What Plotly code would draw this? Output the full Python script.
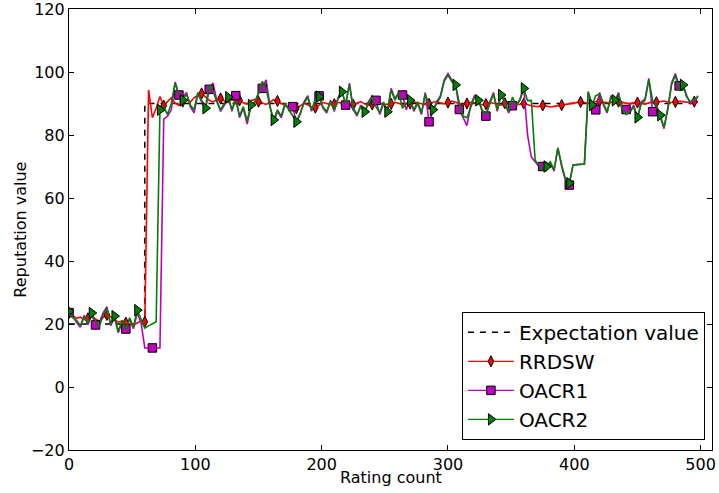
import plotly.graph_objects as go

# x positions of the sampled points (rating count)
x_grid = list(range(0, 500, 3))

expect_x = [0, 60, 60, 500]
expect_y = [20, 20, 90, 90]

rrdsw = [
    23.5, 22.5, 21.8, 22.2, 21.4, 21.8, 22.4, 21.6, 20.8, 22.0,
    22.9, 22.3, 21.5, 20.6, 20.9, 20.4, 19.9, 19.6, 20.3, 21.0,
    20.7, 94.3, 85.5, 88.5, 92.2, 89.3, 90.6, 91.8, 90.2, 89.4,
    90.6, 91.3, 90.4, 91.8, 92.6, 93.2, 92.1, 91.0, 90.5, 91.2,
    91.6, 90.8, 90.3, 91.4, 90.7, 91.0, 90.2, 89.8, 90.9, 91.3,
    90.6, 90.1, 89.7, 90.4, 91.2, 90.8, 90.0, 89.5, 88.9, 88.7,
    88.5, 89.2, 90.1, 89.6, 88.8, 88.7, 89.5, 90.3, 90.0, 89.6,
    89.8, 90.4, 90.1, 89.7, 89.5, 89.6, 90.2, 90.6, 89.9, 89.4,
    89.7, 90.3, 90.0, 89.6, 89.8, 89.9, 90.4, 90.1, 89.5, 89.7,
    90.0, 90.5, 90.2, 89.8, 89.6, 89.9, 90.3, 90.7, 90.2, 89.9,
    90.3, 90.8, 90.4, 89.9, 89.7, 90.0, 90.4, 90.2, 89.8, 89.6,
    89.8, 90.3, 90.1, 89.7, 89.5, 90.1, 90.5, 90.2, 89.9, 89.7,
    90.0, 89.6, 89.3, 89.1, 89.0, 89.4, 89.2, 88.9, 89.1, 89.3,
    89.5, 89.7, 89.9, 90.0, 90.2, 90.5, 90.3, 90.1, 90.4, 90.6,
    90.8, 90.5, 90.2, 90.4, 90.7, 90.6, 90.3, 90.1, 89.9, 90.2,
    90.3, 90.1, 89.8, 90.2, 90.5, 90.4, 90.6, 90.8, 90.5, 90.3,
    90.5, 90.7, 90.6, 90.4, 90.5, 90.6, 90.4,
]

oacr1 = [
    23.6, 22.5, 20.5, 19.0, 22.8, 19.8, 23.0, 19.7, 20.5, 23.5,
    25.5, 19.5, 22.0, 17.2, 20.5, 18.4, 21.5, 18.5, 23.5, 20.5,
    12.4, 12.4, 12.4, 12.4, 12.4, 85.0, 86.0, 88.0, 96.8, 92.7,
    92.0, 93.5, 89.0, 87.0, 93.0, 90.5, 88.0, 94.5, 96.5, 91.0,
    87.5, 89.5, 92.5, 87.5, 92.5, 85.5, 88.5, 83.5, 89.0, 90.0,
    93.5, 94.8, 97.5, 89.5, 84.0, 87.5, 85.5, 89.5, 88.5, 89.0,
    84.0, 86.5, 90.5, 92.5, 87.5, 91.5, 92.4, 88.5, 87.0, 91.0,
    87.5, 92.0, 94.0, 89.5, 96.5, 88.0, 86.0, 89.5, 86.8, 90.5,
    92.5, 91.0, 86.5, 90.0, 87.0, 94.8, 91.5, 93.5, 92.7, 88.0,
    91.5, 87.5, 90.0, 86.5, 93.5, 84.2, 87.5, 90.5, 92.5, 97.5,
    99.5, 97.5, 96.0, 88.1, 85.5, 83.0, 89.5, 92.5, 91.5, 87.5,
    86.0, 90.5, 93.5, 87.5, 93.0, 90.0, 87.0, 89.3, 89.0, 91.5,
    95.0, 80.0, 73.0, 71.5, 70.0, 70.0, 69.5, 71.0, 68.5, 76.0,
    70.0, 65.5, 64.1, 70.5, 70.6, 70.7, 70.8, 93.5, 90.0, 88.0,
    93.5, 89.5, 87.0, 92.5, 90.5, 93.5, 87.5, 88.1, 87.0, 89.5,
    85.0, 90.5, 91.5, 98.0, 87.4, 89.5, 86.0, 82.0, 88.5, 96.5,
    99.5, 95.6, 96.0, 92.5, 90.0, 91.0, 92.5,
]

oacr2 = [
    24.0, 22.0, 21.2, 19.5, 22.3, 20.2, 23.5, 21.0, 19.2, 22.8,
    25.0, 20.0, 22.5, 17.6, 21.2, 18.3, 22.0, 19.0, 24.4, 21.5,
    18.7, 19.4, 20.0, 20.7, 88.0, 89.0, 86.5, 90.0, 96.5, 93.0,
    91.0, 93.0, 89.5, 88.0, 93.5, 91.0, 88.5, 96.0, 94.0, 90.5,
    88.0, 90.0, 92.0, 88.0, 91.0, 86.0, 89.0, 84.5, 89.5, 90.5,
    93.0, 97.0, 95.0, 89.0, 84.8, 88.0, 86.0, 90.0, 88.0, 86.0,
    84.2, 87.0, 90.0, 92.0, 88.0, 91.0, 92.2, 89.0, 87.5, 90.5,
    88.0, 91.5, 93.7, 90.0, 96.0, 88.5, 86.5, 89.0, 87.4, 90.0,
    92.0, 89.0, 87.0, 90.5, 87.4, 94.3, 91.0, 93.5, 88.5, 90.0,
    91.0, 88.0, 90.5, 87.0, 93.0, 89.5, 88.0, 90.0, 92.0, 97.0,
    99.0, 97.0, 95.9, 90.0, 86.0, 85.5, 89.0, 92.0, 91.0, 88.0,
    86.5, 90.0, 93.0, 88.0, 92.7, 90.5, 87.5, 92.0, 89.5, 91.0,
    94.8, 90.9, 91.0, 72.0, 70.5, 69.0, 70.0, 71.5, 69.0, 75.8,
    70.5, 66.0, 64.7, 70.5, 70.6, 70.7, 70.8, 93.8, 89.5, 92.5,
    93.0, 90.0, 87.4, 92.0, 91.0, 93.0, 88.0, 86.5, 87.5, 89.0,
    85.6, 90.0, 91.0, 97.5, 91.0, 89.0, 86.3, 82.5, 88.0, 96.0,
    99.0, 94.0, 95.9, 92.0, 90.5, 91.5, 92.0,
]

x_ticks = [0, 100, 200, 300, 400, 500]
y_ticks = [-20, 0, 20, 40, 60, 80, 100, 120]

RED = "#ff0000"
MAG = "#bf00bf"
GRN = "#008000"
FONT = "DejaVu Sans"

# marker positions (every 15, 22 and 18 rating counts, snapped to sample grid)
idx_r = list(range(0, len(x_grid), 5))
idx_m = sorted(set(round(22 * k / 3) for k in range(0, 23)))
idx_g = list(range(0, len(x_grid), 6))

fig = go.Figure()

fig.add_trace(go.Scatter(x=expect_x, y=expect_y, mode="lines", name="Expectation value",
                         line=dict(color="black", width=1.5, dash="6px,6px")))


def add_series(vals, idx, color, symbol, size):
    fig.add_trace(go.Scatter(x=x_grid, y=vals, mode="lines", showlegend=False,
                             line=dict(color=color, width=1.6)))
    fig.add_trace(go.Scatter(x=[x_grid[i] for i in idx], y=[vals[i] for i in idx],
                             mode="markers", showlegend=False,
                             marker=dict(symbol=symbol, size=size, color=color,
                                         line=dict(color="black", width=1))))


add_series(rrdsw, idx_r, RED, "diamond-tall", 8)
add_series(oacr1, idx_m, MAG, "square", 8.5)
add_series(oacr2, idx_g, GRN, "triangle-right", 10)

# legend entries
for name, color, symbol, size in [("RRDSW", RED, "diamond-tall", 8),
                                   ("OACR1", MAG, "square", 8.5),
                                   ("OACR2", GRN, "triangle-right", 10)]:
    fig.add_trace(go.Scatter(x=[None], y=[None], mode="lines+markers", name=name,
                             line=dict(color=color, width=1.4),
                             marker=dict(symbol=symbol, size=size, color=color,
                                         line=dict(color="black", width=1))))

axis_common = dict(showline=True, linecolor="black", linewidth=1.2, mirror="allticks",
                   ticks="inside", ticklen=5, tickwidth=1, tickcolor="black",
                   showgrid=False, zeroline=False, automargin=False,
                   ticklabeloverflow="allow",
                   tickfont=dict(family=FONT, size=16, color="black"))

fig.update_xaxes(range=[0, 509], tickvals=x_ticks, **axis_common)
fig.update_yaxes(range=[-20, 120.001], tickvals=y_ticks, **axis_common)

fig.add_annotation(text="Rating count", xref="paper", yref="paper",
                   x=0.5, y=-0.063, xanchor="center", yanchor="middle", showarrow=False,
                   font=dict(family=FONT, size=16, color="black"))
fig.add_annotation(text="Reputation value", xref="paper", yref="paper",
                   x=-0.076, y=0.5, xanchor="center", yanchor="middle", showarrow=False,
                   textangle=-90, font=dict(family=FONT, size=16, color="black"))

fig.update_layout(
    width=719, height=493,
    margin=dict(l=69, r=7, t=9, b=43),
    paper_bgcolor="white", plot_bgcolor="white",
    font=dict(family=FONT, color="black"),
    legend=dict(x=0.989, y=0.023, xanchor="right", yanchor="bottom",
                bordercolor="black", borderwidth=1, bgcolor="white",
                font=dict(family=FONT, size=20, color="black"),
                tracegroupgap=0, itemwidth=46, traceorder="normal"),
)

fig.write_html("out.html", config={"displayModeBar": False},
               post_script="document.body.style.margin='0px';document.body.style.overflow='hidden';")
